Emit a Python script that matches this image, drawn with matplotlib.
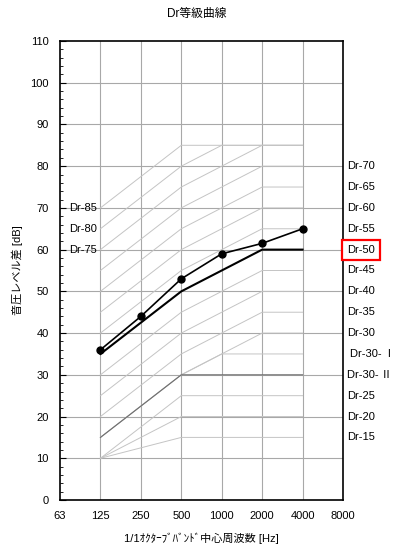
#!/usr/bin/env python3

import matplotlib

matplotlib.use("Agg")
import matplotlib.pyplot as plt
import numpy as np

plt.rcParams["font.family"] = ["Liberation Sans", "Noto Sans CJK JP", "DejaVu Sans"]

freq_labels = ["63", "125", "250", "500", "1000", "2000", "4000", "8000"]
band_labels = ["125", "250", "500", "1000", "2000", "4000"]

# Dr reference curves (125 .. 4000 Hz), capped at 85 dB as in the sheet
dr_85 = [70, 77.5, 85, 85, 85, 85]
dr_80 = [65, 72.5, 80, 85, 85, 85]
dr_75 = [60, 67.5, 75, 80, 85, 85]
dr_70 = [55, 62.5, 70, 75, 80, 80]
dr_65 = [50, 57.5, 65, 70, 75, 75]
dr_60 = [45, 52.5, 60, 65, 70, 70]
dr_55 = [40, 47.5, 55, 60, 65, 65]
dr_50 = [35, 42.5, 50, 55, 60, 60]
dr_45 = [30, 37.5, 45, 50, 55, 55]
dr_40 = [25, 32.5, 40, 45, 50, 50]
dr_35 = [20, 27.5, 35, 40, 45, 45]
dr_30 = [15, 22.5, 30, 35, 40, 40]
dr_30_1 = [15, 22.5, 30, 35, 35, 35]
dr_30_2 = [15, 22.5, 30, 30, 30, 30]
dr_25 = [10, 17.5, 25, 25, 25, 25]
dr_20 = [10, 15, 20, 20, 20, 20]
dr_15 = [10, 12.5, 15, 15, 15, 15]

measured = [36, 44, 53, 59, 61.5, 65]

right_labels = ["Dr-70", "Dr-65", "Dr-60", "Dr-55", "Dr-50", "Dr-45", "Dr-40",
                "Dr-35", "Dr-30", "Dr-30-\u2009Ⅰ", "Dr-30-\u2009Ⅱ", "Dr-25", "Dr-20", "Dr-15"]
right_label_y = [80, 75, 70, 65, 60, 55, 50, 45, 40, 35, 30, 25, 20, 15]
left_labels = ["Dr-85", "Dr-80", "Dr-75"]
left_label_y = [70, 65, 60]

fig = plt.figure(figsize=(3.94, 5.5), dpi=100)
ax = fig.add_axes([0.1523, 0.0909, 0.7183, 0.8346])

x_all = np.arange(len(freq_labels))
x_band = np.arange(1, 1 + len(band_labels))

# grid
for xv in x_all[1:-1]:
    ax.axvline(xv, color="#a8a8a8", lw=0.8, zorder=1)
for yv in range(10, 110, 10):
    ax.axhline(yv, color="#a8a8a8", lw=0.8, zorder=1)

light = [dr_85, dr_80, dr_75, dr_70, dr_65, dr_60, dr_55, dr_45, dr_40,
         dr_35, dr_30, dr_30_1, dr_25, dr_20, dr_15]
for curve in light:
    ax.plot(x_band, curve, color="#c4c4c4", lw=0.7, zorder=2)
ax.plot(x_band, dr_30_2, color="#6e6e6e", lw=0.8, zorder=2)

ax.plot(x_band, dr_50, color="black", lw=1.5, zorder=4)
ax.plot(x_band, measured, color="black", lw=1.2, marker="o", ms=5, zorder=5)

for lab, yv in zip(left_labels, left_label_y):
    ax.text(0.92, yv, lab, ha="right", va="center", fontsize=8)

for lab, yv in zip(right_labels, right_label_y):
    kw = {}
    dx = 1.015
    if lab == "Dr-50":
        kw["bbox"] = dict(boxstyle="square,pad=0.45", fc="white", ec="red", lw=1.6)
    if "Ⅰ" in lab:
        dx = 1.025
    ax.text(dx, yv, lab, transform=ax.get_yaxis_transform(), ha="left",
            va="center", fontsize=8, **kw)

ax.set_xlim(0, 7)
ax.set_ylim(0, 110)
ax.set_xticks(x_all)
ax.set_xticklabels(freq_labels, fontsize=8)
ax.set_yticks(range(0, 111, 10))
ax.set_yticks(range(0, 111, 2), minor=True)
ax.tick_params(axis="y", which="major", direction="in", length=4, labelsize=8, pad=8)
ax.tick_params(axis="y", which="minor", direction="in", length=2.5)
ax.tick_params(axis="x", direction="in", length=0, labelsize=8, pad=8)
for sp in ax.spines.values():
    sp.set_linewidth(1.2)

ax.set_xlabel("1/1ｵｸﾀｰﾌﾞﾊﾞﾝﾄﾞ中心周波数 [Hz]", fontsize=8, labelpad=8)
ax.set_ylabel("音圧レベル差 [dB]", fontsize=8, labelpad=5)
fig.text(0.5, 0.975, "Dr等級曲線", ha="center", va="center", fontsize=8.5)

fig.savefig("out.png", dpi=100)
